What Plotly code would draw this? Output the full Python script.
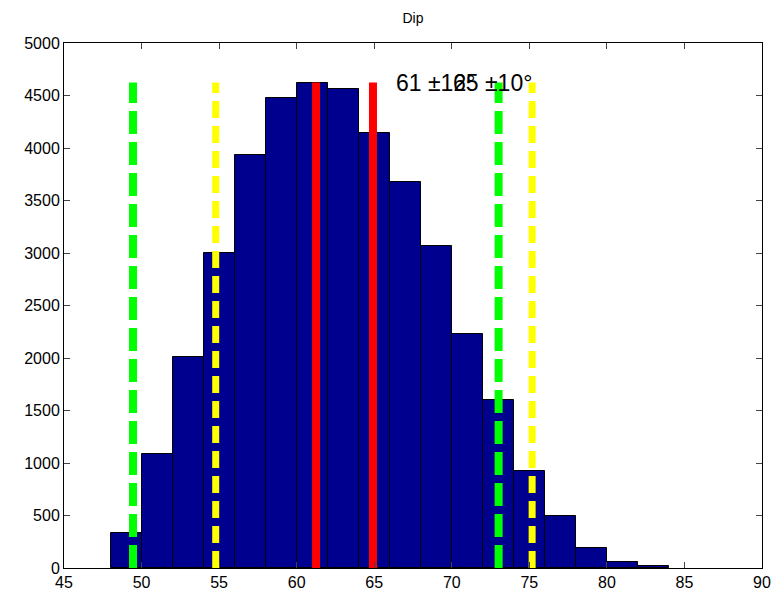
import plotly.graph_objects as go

# Histogram of dip angles (2-degree bins)
bin_left = [48, 50, 52, 54, 56, 58, 60, 62, 64, 66, 68, 70, 72, 74, 76, 78, 80, 82]
counts = [337, 1083, 2007, 2997, 3929, 4476, 4623, 4566, 4143, 3673, 3064, 2226,
          1597, 924, 499, 194, 61, 16]
bin_width = 2

# Two estimates: means and spread bounds
means = [61.25, 64.92]
mean_labels = ["61 ±12°", "65 ±10°"]
lower_bounds = [49.45, 54.78]
upper_bounds = [73.02, 75.18]
bound_colors = ["#00ff00", "#ffff00"]
bound_dashes = ["23px,8px", "17px,8px"]
bound_widths = [8, 7]

peak = max(counts)
centers = [b + bin_width / 2 for b in bin_left]

fig = go.Figure()
fig.add_trace(go.Bar(
    x=centers, y=counts, width=bin_width,
    marker=dict(color="#00008F", line=dict(color="black", width=1)),
    showlegend=False, hoverinfo="skip",
))

for m in means:
    fig.add_trace(go.Scatter(
        x=[m, m], y=[0, peak], mode="lines",
        line=dict(color="#ff0000", width=8), showlegend=False,
    ))

for lo, hi, c, d, w in zip(lower_bounds, upper_bounds, bound_colors, bound_dashes, bound_widths):
    for xv in (lo, hi):
        fig.add_trace(go.Scatter(
            x=[xv, xv], y=[0, peak], mode="lines",
            line=dict(color=c, width=w, dash=d), showlegend=False,
        ))

for m, lab in zip(means, mean_labels):
    fig.add_annotation(
        x=m + 5, y=peak, text=lab, showarrow=False,
        xanchor="left", yanchor="middle",
        font=dict(family="Liberation Sans, Arial", size=23, color="black"),
    )

axis_common = dict(
    showgrid=False, zeroline=False, showline=True, linecolor="black", linewidth=1,
    mirror="ticks", ticks="inside", ticklen=6, tickcolor="#444", automargin=False,
    tickfont=dict(family="Liberation Sans, Arial", size=16, color="black"),
)
fig.update_xaxes(range=[45, 90], tick0=45, dtick=5, **axis_common)
fig.update_yaxes(range=[0, 5000], tick0=0, dtick=500, **axis_common)

fig.update_layout(
    width=774, height=596,
    margin=dict(l=64, r=12, t=43, b=28, autoexpand=False),
    paper_bgcolor="white", plot_bgcolor="white",
    bargap=0,
    title=dict(text="Dip", x=(64 + 762) / 2 / 774, xanchor="center", y=1 - 18 / 596,
               yanchor="middle", font=dict(family="Liberation Sans, Arial", size=14, color="black")),
)

fig.write_html("out.html")
